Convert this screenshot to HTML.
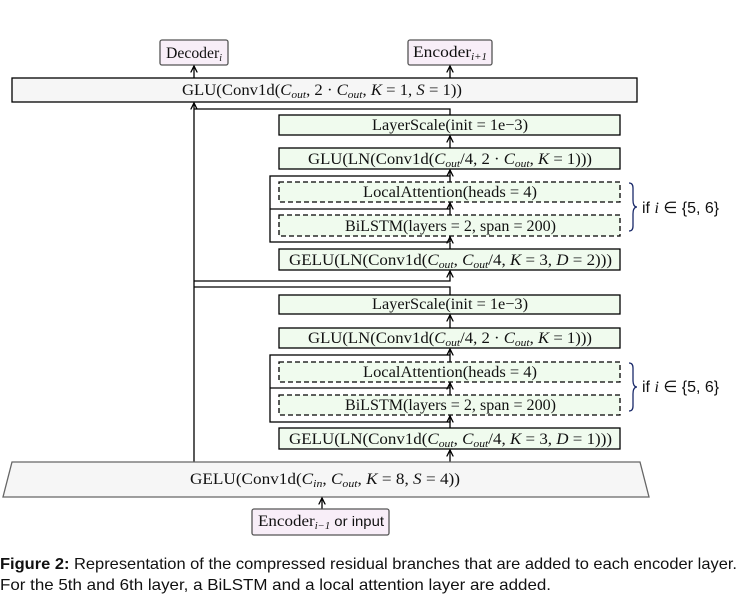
<!DOCTYPE html>
<html><head><meta charset="utf-8"><style>
html,body{margin:0;padding:0;background:#fff;}
svg{display:block;}
text{font-family:"Liberation Serif",serif;font-size:16px;fill:#111;}
.s{font-family:"Liberation Sans",sans-serif;}
</style></head><body>
<svg width="749" height="606" viewBox="0 0 749 606" xmlns="http://www.w3.org/2000/svg">
<defs><marker id="a" markerWidth="6" markerHeight="6" refX="5" refY="3" orient="auto"><path d="M0,0.5 L5,3 L0,5.5" fill="none" stroke="#000" stroke-width="1"/></marker></defs>
<g stroke="#000" stroke-width="1.3" fill="none">
<rect x="160" y="40" width="68" height="25" rx="2" fill="#f8eef8" stroke="#555"/>
<rect x="408" y="40" width="84" height="25" rx="2" fill="#f8eef8" stroke="#555"/>
<line x1="194" y1="78" x2="194" y2="66" marker-end="url(#a)"/>
<line x1="450" y1="78" x2="450" y2="66" marker-end="url(#a)"/>
<rect x="12" y="78" width="625" height="24" fill="#f6f6f6"/>
<line x1="194" y1="462" x2="194" y2="103" marker-end="url(#a)"/>
<polyline points="194,109 450,109 450,115"/>
<rect x="279" y="115" width="341" height="20" fill="#f0fbee"/>
<line x1="450" y1="148" x2="450" y2="136" marker-end="url(#a)"/>
<rect x="279" y="148" width="341" height="21" fill="#f0fbee"/>
<line x1="450" y1="176" x2="450" y2="170" marker-end="url(#a)"/>
<rect x="270" y="176" width="180" height="66"/>
<line x1="270" y1="209" x2="450" y2="209"/>
<rect x="279" y="182" width="341" height="20" fill="#f0fbee" stroke-dasharray="5,3"/>
<rect x="279" y="215" width="341" height="21" fill="#f0fbee" stroke-dasharray="5,3"/>
<line x1="450" y1="209" x2="450" y2="203" marker-end="url(#a)"/>
<line x1="450" y1="242" x2="450" y2="237" marker-end="url(#a)"/>
<line x1="450" y1="249" x2="450" y2="243"/>
<rect x="279" y="249" width="341" height="21" fill="#f0fbee"/>
<polyline points="194,281 450,281 450,271" marker-end="url(#a)"/>
<polyline points="194,287 450,287 450,295"/>
<rect x="279" y="295" width="341" height="19" fill="#f0fbee"/>
<line x1="450" y1="328" x2="450" y2="315" marker-end="url(#a)"/>
<rect x="279" y="328" width="341" height="20" fill="#f0fbee"/>
<line x1="450" y1="355" x2="450" y2="349" marker-end="url(#a)"/>
<rect x="270" y="355" width="180" height="67"/>
<line x1="270" y1="388" x2="450" y2="388"/>
<rect x="279" y="362" width="341" height="20" fill="#f0fbee" stroke-dasharray="5,3"/>
<rect x="279" y="395" width="341" height="20" fill="#f0fbee" stroke-dasharray="5,3"/>
<line x1="450" y1="388" x2="450" y2="383" marker-end="url(#a)"/>
<line x1="450" y1="422" x2="450" y2="416" marker-end="url(#a)"/>
<line x1="450" y1="428" x2="450" y2="422"/>
<rect x="279" y="428" width="341" height="21" fill="#f0fbee"/>
<line x1="450" y1="462" x2="450" y2="450" marker-end="url(#a)"/>
<polygon points="12,462 640,462 649,497 3,497" fill="#f6f6f6" stroke="#666"/>
<line x1="322" y1="509" x2="322" y2="498" marker-end="url(#a)"/>
<rect x="252" y="509" width="137" height="26" rx="2" fill="#f8eef8" stroke="#555"/>
<path d="M629,183 q4,0 4,5 v12 q0,7 4,7 q-4,0 -4,7 v12 q0,5 -4,5" stroke="#1a2a6a"/>
<path d="M629,363 q4,0 4,5 v12 q0,7 4,7 q-4,0 -4,7 v12 q0,5 -4,5" stroke="#1a2a6a"/>
</g>
<text x="166" y="58" textLength="56" lengthAdjust="spacingAndGlyphs">Decoder<tspan font-size="10" font-style="italic" dy="3">i</tspan></text>
<text x="413" y="57" textLength="74" lengthAdjust="spacingAndGlyphs">Encoder<tspan font-size="10" font-style="italic" dy="3">i+1</tspan></text>
<text x="182" y="95" textLength="280" lengthAdjust="spacingAndGlyphs">GLU(Conv1d(<tspan font-style="italic">C<tspan font-size="11" dy="3">out</tspan></tspan><tspan dy="-3">, 2 · </tspan><tspan font-style="italic">C<tspan font-size="11" dy="3">out</tspan></tspan><tspan dy="-3">, </tspan><tspan font-style="italic">K</tspan> = 1, <tspan font-style="italic">S</tspan> = 1))</text>
<text x="372" y="130" textLength="156" lengthAdjust="spacingAndGlyphs">LayerScale(init = 1e−3)</text>
<text x="308" y="164" textLength="284" lengthAdjust="spacingAndGlyphs">GLU(LN(Conv1d(<tspan font-style="italic">C<tspan font-size="11" dy="3">out</tspan></tspan><tspan dy="-3">/4, 2 · </tspan><tspan font-style="italic">C<tspan font-size="11" dy="3">out</tspan></tspan><tspan dy="-3">, </tspan><tspan font-style="italic">K</tspan> = 1)))</text>
<text x="363" y="197" textLength="174" lengthAdjust="spacingAndGlyphs">LocalAttention(heads = 4)</text>
<text x="345" y="231" textLength="211" lengthAdjust="spacingAndGlyphs">BiLSTM(layers = 2, span = 200)</text>
<text x="289" y="265" textLength="323" lengthAdjust="spacingAndGlyphs">GELU(LN(Conv1d(<tspan font-style="italic">C<tspan font-size="11" dy="3">out</tspan></tspan><tspan dy="-3">, </tspan><tspan font-style="italic">C<tspan font-size="11" dy="3">out</tspan></tspan><tspan dy="-3">/4, </tspan><tspan font-style="italic">K</tspan> = 3, <tspan font-style="italic">D</tspan> = 2)))</text>
<text x="372" y="309" textLength="156" lengthAdjust="spacingAndGlyphs">LayerScale(init = 1e−3)</text>
<text x="308" y="343" textLength="284" lengthAdjust="spacingAndGlyphs">GLU(LN(Conv1d(<tspan font-style="italic">C<tspan font-size="11" dy="3">out</tspan></tspan><tspan dy="-3">/4, 2 · </tspan><tspan font-style="italic">C<tspan font-size="11" dy="3">out</tspan></tspan><tspan dy="-3">, </tspan><tspan font-style="italic">K</tspan> = 1)))</text>
<text x="363" y="377" textLength="174" lengthAdjust="spacingAndGlyphs">LocalAttention(heads = 4)</text>
<text x="345" y="410" textLength="211" lengthAdjust="spacingAndGlyphs">BiLSTM(layers = 2, span = 200)</text>
<text x="289" y="444" textLength="323" lengthAdjust="spacingAndGlyphs">GELU(LN(Conv1d(<tspan font-style="italic">C<tspan font-size="11" dy="3">out</tspan></tspan><tspan dy="-3">, </tspan><tspan font-style="italic">C<tspan font-size="11" dy="3">out</tspan></tspan><tspan dy="-3">/4, </tspan><tspan font-style="italic">K</tspan> = 3, <tspan font-style="italic">D</tspan> = 1)))</text>
<text x="190" y="484" textLength="270" lengthAdjust="spacingAndGlyphs">GELU(Conv1d(<tspan font-style="italic">C<tspan font-size="11" dy="3">in</tspan></tspan><tspan dy="-3">, </tspan><tspan font-style="italic">C<tspan font-size="11" dy="3">out</tspan></tspan><tspan dy="-3">, </tspan><tspan font-style="italic">K</tspan> = 8, <tspan font-style="italic">S</tspan> = 4))</text>
<text x="258" y="526" textLength="126" lengthAdjust="spacingAndGlyphs">Encoder<tspan font-size="10" font-style="italic" dy="3">i−1</tspan><tspan dy="-3" class="s" font-size="14"> or input</tspan></text>
<text x="642" y="213" class="s" font-size="14">if <tspan font-family="Liberation Serif" font-style="italic">i</tspan> ∈ {5, 6}</text>
<text x="642" y="392" class="s" font-size="14">if <tspan font-family="Liberation Serif" font-style="italic">i</tspan> ∈ {5, 6}</text>
<text x="0" y="569" class="s" font-size="15" textLength="737" lengthAdjust="spacingAndGlyphs"><tspan font-weight="bold">Figure 2:</tspan> Representation of the compressed residual branches that are added to each encoder layer.</text>
<text x="0" y="590" class="s" font-size="15" textLength="551" lengthAdjust="spacingAndGlyphs">For the 5th and 6th layer, a BiLSTM and a local attention layer are added.</text>
</svg>
</body></html>
